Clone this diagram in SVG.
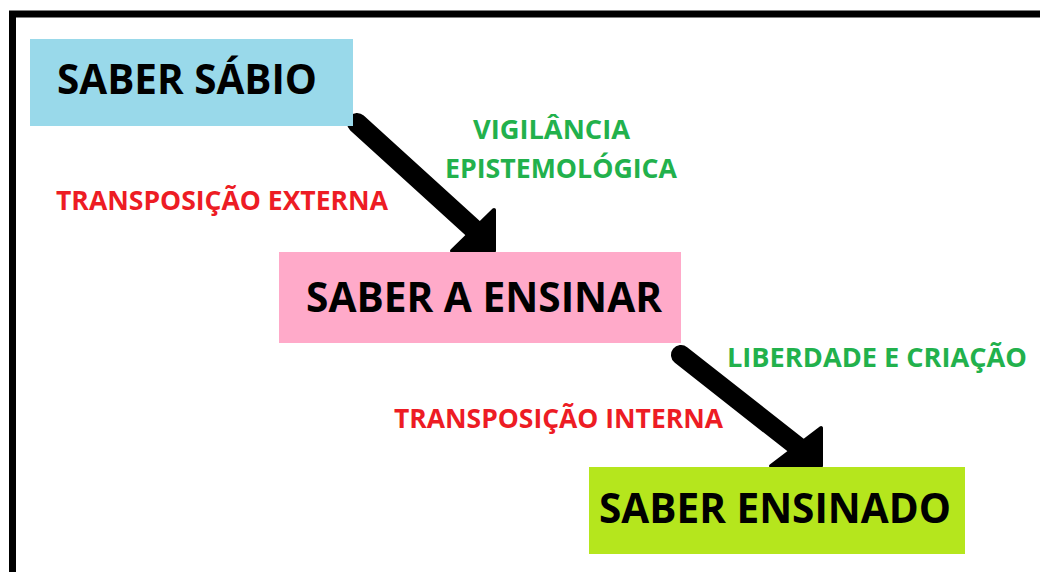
<svg xmlns="http://www.w3.org/2000/svg" width="1040" height="572" viewBox="0 0 1040 572">
<style>
.box-text{font-family:"Open Sans","Liberation Sans",sans-serif;font-weight:bold;font-size:41px;fill:#000}
.lbl{font-family:"Open Sans","Liberation Sans",sans-serif;font-weight:bold;font-size:26px}
.red{fill:#ED1C24}
.green{fill:#22B14C}
.shaft{stroke:#000;stroke-width:20;stroke-linecap:round;fill:none}
.head{fill:#000;stroke:#000;stroke-width:4;stroke-linejoin:round}
</style>
<rect x="0" y="0" width="1040" height="572" fill="#fff"/>
<path d="M12.5 572 V14 H1040" fill="none" stroke="#000" stroke-width="7"/>
<g id="connectors">
  <line class="shaft" x1="357" y1="123" x2="478" y2="233"/>
  <polygon class="head" points="452,251 494,210 494,251"/>
  <line class="shaft" x1="681" y1="355" x2="802" y2="450"/>
  <polygon class="head" points="771,466 821,428 821,466"/>
</g>
<g id="node-saber-sabio">
  <rect x="30" y="39" width="323" height="87" fill="#99D9EA"/>
  <text class="box-text" x="57" y="94" textLength="260" lengthAdjust="spacingAndGlyphs">SABER SÁBIO</text>
</g>
<g id="node-saber-a-ensinar">
  <rect x="279" y="252" width="402" height="91" fill="#FFAAC9"/>
  <text class="box-text" x="306" y="312" textLength="356" lengthAdjust="spacingAndGlyphs">SABER A ENSINAR</text>
</g>
<g id="node-saber-ensinado">
  <rect x="589" y="467" width="376" height="87" fill="#B5E61D"/>
  <text class="box-text" x="599" y="523" textLength="352" lengthAdjust="spacingAndGlyphs">SABER ENSINADO</text>
</g>
<g id="labels">
  <text class="lbl red" x="56" y="210" textLength="332" lengthAdjust="spacingAndGlyphs">TRANSPOSIÇÃO EXTERNA</text>
  <text class="lbl green" x="473" y="139" textLength="157" lengthAdjust="spacingAndGlyphs">VIGILÂNCIA</text>
  <text class="lbl green" x="445" y="178" textLength="232" lengthAdjust="spacingAndGlyphs">EPISTEMOLÓGICA</text>
  <text class="lbl red" x="394" y="428" textLength="329" lengthAdjust="spacingAndGlyphs">TRANSPOSIÇÃO INTERNA</text>
  <text class="lbl green" x="727" y="367" textLength="300" lengthAdjust="spacingAndGlyphs">LIBERDADE E CRIAÇÃO</text>
</g>
</svg>
